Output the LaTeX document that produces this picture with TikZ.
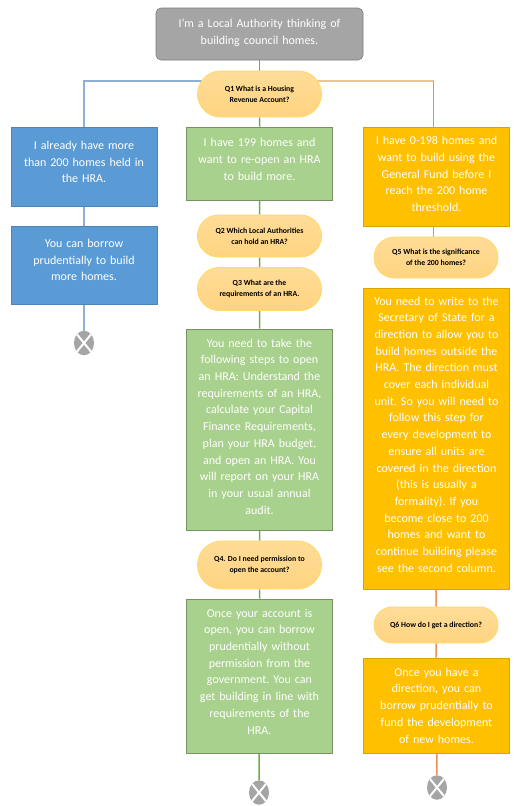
\documentclass[tikz,border=0pt]{standalone}
\usepackage{fontspec}
\setmainfont{Carlito}
\usetikzlibrary{shapes.geometric, shapes.misc, backgrounds}

\definecolor{blockblue}{HTML}{5B9BD5}
\definecolor{blockgreen}{HTML}{A9D18E}
\definecolor{blockorange}{HTML}{FFC000}
\definecolor{blockgrey}{HTML}{A5A5A5}
\definecolor{pilltop}{HTML}{FFDC98}
\definecolor{pillbottom}{HTML}{FFD480}
\definecolor{pillrim}{HTML}{FFD966}
\definecolor{linkblue}{HTML}{8DB0D3}
\definecolor{linkgreen}{HTML}{70AD47}
\definecolor{linkorange}{HTML}{EE8F55}
\definecolor{linkgold}{HTML}{E9C88C}

\tikzset{
    block/.style={draw, semithick, align=center, text=white, inner sep=0pt, text width=146, font=\fontsize{12}{16.7}\selectfont\frenchspacing},
    lift/.style={execute at end node={\par\vspace*{#1}}},
    blue block/.style={block, fill=blockblue, draw=blockblue!85!black},
    green block/.style={block, fill=blockgreen, draw=blockgreen!70!black},
    orange block/.style={block, fill=blockorange, draw=blockorange!85!black},
    start block/.style={block, text width=207, rounded corners=5pt, fill=blockgrey, draw=blockgrey!75!black},
    question/.style={rounded rectangle, draw=pillrim, thick, top color=pilltop, bottom color=pillbottom, align=center, text=black, inner sep=0pt, minimum width=124, font=\fontsize{7.8}{11}\selectfont\bfseries},
    blue line/.style={line width=1.5pt, draw=linkblue},
    green line/.style={line width=1.5pt, draw=linkgreen},
    orange line/.style={line width=1.5pt, draw=linkorange},
    gold line/.style={line width=1.5pt, draw=linkgold},
    finish/.style={ellipse, fill=blockgrey, minimum width=20, minimum height=24.5, inner sep=0pt, path picture={
        \draw[white, line width=2pt] (path picture bounding box.north west) -- (path picture bounding box.south east);
        \draw[white, line width=2pt] (path picture bounding box.north east) -- (path picture bounding box.south west);}},
}

\begin{document}
\begin{tikzpicture}[x=1pt, y=-1pt]
    \useasboundingbox (0,0) rectangle (515,806);

    % Start and first question
    \node[start block, minimum height=52, lift=2pt] (start) at (259.5,34) {I'm a Local Authority thinking of\\building council homes.};
    \node[question, minimum height=46] (qone) at (259.5,94) {Q1 What is a Housing\\Revenue Account?};

    % Left column
    \node[blue block, minimum height=79, lift=9pt] (blueone) at (84,166.5) {I already have more\\than 200 homes held in\\the HRA.};
    \node[blue block, minimum height=78, lift=10pt] (bluetwo) at (84,265) {You can borrow\\prudentially to build\\more homes.};
    \node[finish] (blueend) at (84,343) {};

    % Middle column
    \node[green block, minimum height=73, lift=8pt] (greenone) at (259.5,163.5) {I have 199 homes and\\want to re-open an HRA\\to build more.};
    \node[question, minimum height=42] (qtwo) at (259.5,236) {Q2 Which Local Authorities\\can hold an HRA?};
    \node[question, minimum height=43] (qthree) at (259.5,289) {Q3 What are the\\requirements of an HRA.};
    \node[green block, minimum height=201, lift=6pt] (greentwo) at (259.5,429.5) {You need to take the\\following steps to open\\an HRA: Understand the\\requirements of an HRA,\\calculate your Capital\\Finance Requirements,\\plan your HRA budget,\\and open an HRA. You\\will report on your HRA\\in your usual annual\\audit.};
    \node[question, minimum height=48] (qfour) at (259.5,565) {Q4. Do I need permission to\\open the account?};
    \node[green block, minimum height=154, lift=9pt] (greenthree) at (259.5,676) {Once your account is\\open, you can borrow\\prudentially without\\permission from the\\government. You can\\get building in line with\\requirements of the\\HRA.};
    \node[finish] (greenend) at (259,792.5) {};

    % Right column
    \node[orange block, minimum height=99, lift=5pt] (orangeone) at (436.5,176.5) {I have 0-198 homes and\\want to build using the\\General Fund before I\\reach the 200 home\\threshold.};
    \node[question, minimum height=41] (qfive) at (436,257.5) {Q5 What is the significance\\of the 200 homes?};
    \node[orange block, minimum height=301, lift=8pt] (orangetwo) at (436.5,438.5) {You need to write to the\\Secretary of State for a\\direction to allow you to\\build homes outside the\\HRA. The direction must\\cover each individual\\unit. So you will need to\\follow this step for\\every development to\\ensure all units are\\covered in the direction\\(this is usually a\\formality). If you\\become close to 200\\homes and want to\\continue building please\\see the second column.};
    \node[question, minimum height=36] (qsix) at (436,625) {Q6 How do I get a direction?};
    \node[orange block, minimum height=95] (orangethree) at (436.5,705.5) {Once you have a\\direction, you can\\borrow prudentially to\\fund the development\\of new homes.};
    \node[finish] (orangeend) at (437,787.5) {};

    % Connectors, behind the boxes
    \coordinate (split) at (259.5,81);
    \coordinate (orangein) at (433.5,127);
    \begin{scope}[on background layer]
        \draw[green line] (start) -- (qone);
        \draw[green line] (qone) -- (greenone);
        \draw[green line] (greenone) -- (qtwo);
        \draw[green line] (qtwo) -- (qthree);
        \draw[green line] (qthree) -- (greentwo);
        \draw[green line] (greentwo) -- (qfour);
        \draw[green line] (qfour) -- (greenthree);
        \draw[green line] (greenthree) -- (greenend);
        \draw[blue line] (split) -| (blueone.north);
        \draw[blue line] (blueone) -- (bluetwo);
        \draw[blue line] (bluetwo) -- (blueend);
        \draw[gold line] (split) -- (split -| orangein);
        \draw[orange line] (split -| orangein) -- (qfive.center -| orangein);
        \draw[orange line] (orangetwo) -- (qsix);
        \draw[orange line] (qsix) -- (orangethree);
        \draw[orange line] (orangethree) -- (orangeend);
    \end{scope}
\end{tikzpicture}
\end{document}
